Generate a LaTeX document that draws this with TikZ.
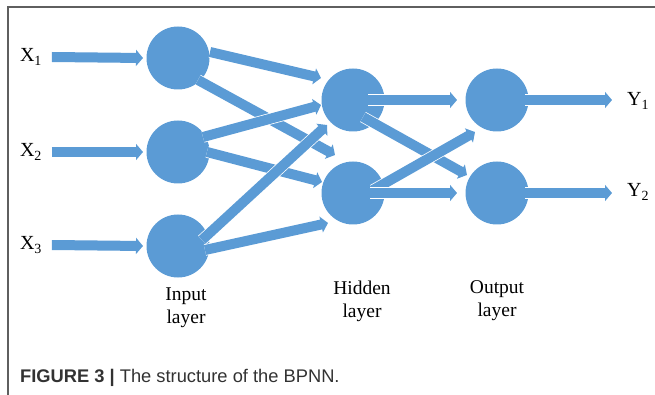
\documentclass[tikz,border=0pt]{standalone}
\usepackage{fontspec}
\setmainfont{Liberation Serif}
\setsansfont{Liberation Sans}
\usetikzlibrary{arrows.meta,calc}
\definecolor{nnblue}{RGB}{91,155,213}
\definecolor{framegray}{RGB}{95,95,95}
\definecolor{captiongray}{RGB}{50,50,50}

\begin{document}
\begin{tikzpicture}[
        x=1pt, y=-1pt,
        neuron/.style={circle, fill=nnblue, minimum size=63pt, inner sep=0pt},
        arr/.style={draw=nnblue, line width=10pt, -{Triangle[width=16pt,length=7pt]},
            preaction={draw=white, line width=11.5pt, -{Triangle[width=18pt,length=8pt]}}},
        varlabel/.style={font=\fontsize{20}{23}\selectfont, inner sep=0pt},
        layerlabel/.style={align=center, font=\fontsize{19.5}{23}\selectfont, inner sep=0pt}
    ]
        \useasboundingbox (0,0) rectangle (655,395);
        \draw[framegray, line width=2pt] (655,7) -- (8,7) -- (8,395);

        % Nodes
        \node[neuron] (i1) at (178,58) {};
        \node[neuron] (i2) at (178,152) {};
        \node[neuron] (i3) at (178,246) {};
        \node[neuron] (h1) at (353,100) {};
        \node[neuron] (h2) at (353,193) {};
        \node[neuron] (o1) at (497,100) {};
        \node[neuron] (o2) at (497,193) {};

        \node[varlabel] (x1) at (31,57) {X\textsubscript{1}};
        \node[varlabel] (x2) at (31,152) {X\textsubscript{2}};
        \node[varlabel] (x3) at (31,245) {X\textsubscript{3}};
        \node[varlabel, anchor=west] (y1) at (627,101) {Y\textsubscript{1}};
        \node[varlabel, anchor=west] (y2) at (627,192) {Y\textsubscript{2}};

        \node[layerlabel] (inlabel) at (186,308) {Input\\layer};
        \node[layerlabel] (hidlabel) at (362,301) {Hidden\\layer};
        \node[layerlabel] (outlabel) at (497,301) {Output\\layer};

        \node[anchor=base west, inner sep=0pt, font=\sffamily\fontsize{18.3}{21}\selectfont, text=captiongray] (caption) at (20,382)
            {\textbf{FIGURE 3 |} The structure of the BPNN.};

        % Connectors
        \draw[arr] ($(x1.west)+(32,0)$) -- ($(i1)+(-35,0)$);
        \draw[arr] ($(x2.west)+(32,0)$) -- ($(i2)+(-35,0)$);
        \draw[arr] ($(x3.west)+(32,0)$) -- ($(i3)+(-35,0)$);

        \draw[arr] ($(i1)+(32,-6)$) -- ($(h1)+(-32,-22)$);
        \draw[arr] ($(i1)+(20,22)$) -- ($(h2)+(-18,-38)$);
        \draw[arr] ($(i2)+(25,-15)$) -- ($(h1)+(-32,5)$);
        \draw[arr] ($(i2)+(29,0)$) -- ($(h2)+(-31,-11)$);
        \draw[arr] ($(i3)+(24,-6)$) -- ($(h1)+(-26,25)$);
        \draw[arr] ($(i3)+(27,4)$) -- ($(h2)+(-25,30)$);

        \draw[arr] ($(h1)+(15,0)$) -- ($(o1)+(-40,0)$);
        \draw[arr] ($(h1)+(10,17)$) -- ($(o2)+(-30,-18)$);
        \draw[arr] ($(h2)+(20,-3)$) -- ($(o1)+(-22,32)$);
        \draw[arr] ($(h2)+(17,0)$) -- ($(o2)+(-40,0)$);

        \draw[arr] ($(o1)+(28,0)$) -- ($(y1.west)+(-15,-1)$);
        \draw[arr] ($(o2)+(28,0)$) -- ($(y2.west)+(-15,1)$);
    \end{tikzpicture}
\end{document}
